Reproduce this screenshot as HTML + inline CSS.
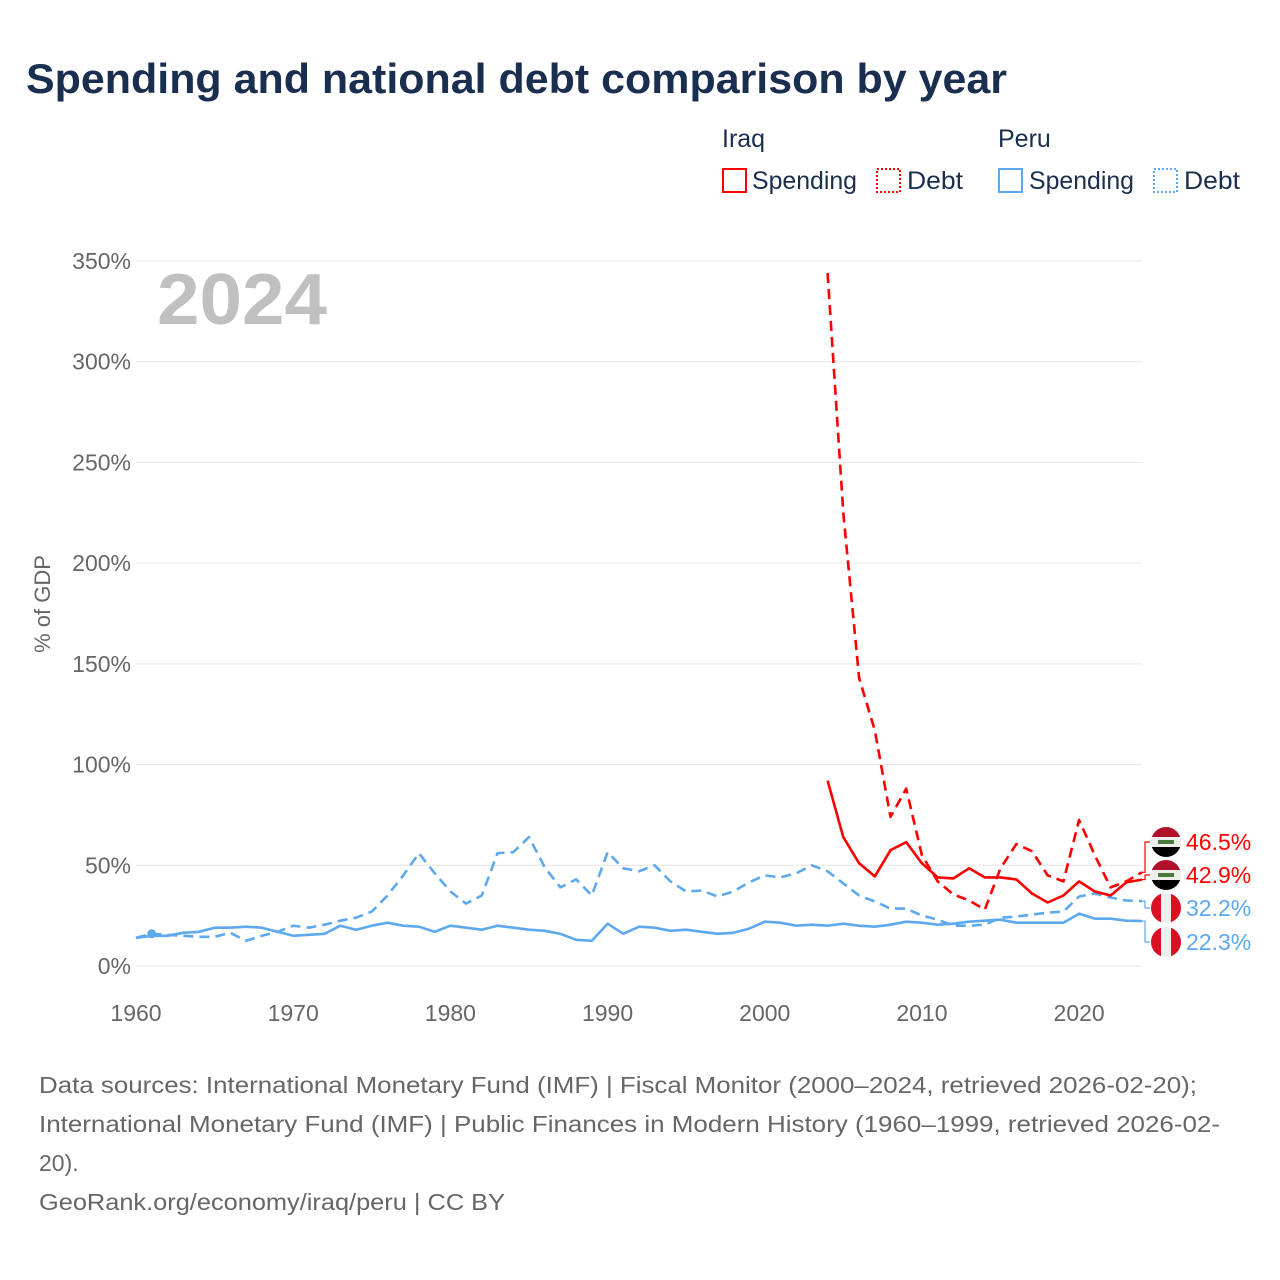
<!DOCTYPE html>
<html><head><meta charset="utf-8"><style>
body{margin:0;background:#fff;font-family:"Liberation Sans",sans-serif;}
#wrap{position:relative;width:1280px;height:1280px;overflow:hidden;}
</style></head><body>
<div id="wrap">
<svg id="svg" width="1280" height="1280" xmlns="http://www.w3.org/2000/svg">
<text x="26" y="93" font-size="42" font-weight="bold" fill="#1a2e4f" textLength="981" lengthAdjust="spacingAndGlyphs">Spending and national debt comparison by year</text>
<g font-size="25" fill="#1a2e4f">
<text x="722" y="147">Iraq</text>
<text x="998" y="147">Peru</text>
<g><rect x="723" y="169" width="23" height="23" fill="none" stroke="#ff0000" stroke-width="2"/><text x="752" y="189" textLength="105" lengthAdjust="spacingAndGlyphs">Spending</text></g>
<g><rect x="877" y="169" width="23" height="23" fill="none" stroke="#ff0000" stroke-width="2" stroke-dasharray="2,2"/><text x="907" y="189" textLength="56" lengthAdjust="spacingAndGlyphs">Debt</text></g>
<g><rect x="999" y="169" width="23" height="23" fill="none" stroke="#5ea8ee" stroke-width="2"/><text x="1029" y="189" textLength="105" lengthAdjust="spacingAndGlyphs">Spending</text></g>
<g><rect x="1154" y="169" width="23" height="23" fill="none" stroke="#5ea8ee" stroke-width="2" stroke-dasharray="2,2"/><text x="1184" y="189" textLength="56" lengthAdjust="spacingAndGlyphs">Debt</text></g>
</g>
<text x="157" y="324" font-size="72" font-weight="bold" fill="#c0c0c0" textLength="170" lengthAdjust="spacingAndGlyphs">2024</text>
<text transform="translate(50,604) rotate(-90)" text-anchor="middle" font-size="22" fill="#666">% of GDP</text>
<g id="grid"></g><g id="series"></g><g id="labels"></g>
<g font-size="23" fill="#666">
<text x="39" y="1093" textLength="1158" lengthAdjust="spacingAndGlyphs">Data sources: International Monetary Fund (IMF) | Fiscal Monitor (2000–2024, retrieved 2026-02-20);</text>
<text x="39" y="1132" textLength="1181" lengthAdjust="spacingAndGlyphs">International Monetary Fund (IMF) | Public Finances in Modern History (1960–1999, retrieved 2026-02-</text>
<text x="39" y="1171">20).</text>
<text x="39" y="1210" textLength="466" lengthAdjust="spacingAndGlyphs">GeoRank.org/economy/iraq/peru | CC BY</text>
</g>
</svg>
</div>
<script>
const yTicks=[0,50,100,150,200,250,300,350];
const xTicks=[1960,1970,1980,1990,2000,2010,2020];
const peruYears=[];for(let y=1960;y<=2024;y++)peruYears.push(y);
const iraqYears=[];for(let y=2004;y<=2024;y++)iraqYears.push(y);
const peruSpending=[14,15,15,16.5,17,19,19,19.5,19,17,15,15.5,16,20,18,20,21.5,20,19.5,17,20,19,18,20,19,18,17.5,16,13,12.5,21,16,19.5,19,17.5,18,17,16,16.5,18.5,22,21.5,20,20.5,20,21,20,19.5,20.5,22,21.5,20.5,21,22,22.5,23,21.5,21.5,21.5,21.5,26,23.5,23.5,22.5,22.3];
const peruDebt=[14,16,15.5,15,14.5,14.5,16.5,12.5,15,17,20,19,20.5,22.5,24,27,35,45,56,46,37,31,35,56,56.5,64,49,39,43,35,56.5,48.5,47,50,42,37,37.5,34.5,37,41.5,45,44,46,50,47,41,35,32,28.5,28.5,25,23,20,20,20.5,24,24.5,25.5,26.5,27,34.5,36,34,32.5,32.2];
const iraqSpending=[92,64,51,44.5,57.5,61.5,51,44,43.5,48.5,44,44,43,36,31.5,35,42,37,35,41.5,42.9];
const iraqDebt=[344,225,143,117,74,88,55,42,35.5,32.5,28,48.5,60.5,57,45,42,72.5,55,39,42,46.5];
const X0=136,X1=1142,Y0=966,Y350=261;
const xs=y=>X0+(y-1960)*(X1-X0)/64;
const ys=v=>Y0-v*(Y0-Y350)/350;
const NS='http://www.w3.org/2000/svg';
function mk(tag,attrs,parent){const e=document.createElementNS(NS,tag);for(const k in attrs)e.setAttribute(k,attrs[k]);parent.appendChild(e);return e;}
const grid=document.getElementById('grid');
yTicks.forEach(t=>{
 const l=mk('line',{x1:136,x2:1142,y1:ys(t),y2:ys(t),stroke:'#e6e6e6','stroke-width':1},grid);
 
 
 const tx=mk('text',{x:131,y:ys(t)+8,'text-anchor':'end','font-size':23,fill:'#666'},grid);
 tx.textContent=t+'%';
 
 
});
xTicks.forEach(t=>{
 const tx=mk('text',{x:xs(t),y:1021,'text-anchor':'middle','font-size':23,fill:'#666'},grid);
 tx.textContent=t;
 
 
});
const ser=document.getElementById('series');
function line(years,vals,color,dash,name){
 const d=years.map((y,i)=>(i?'L':'M')+xs(y).toFixed(1)+','+ys(vals[i]).toFixed(1)).join('');
 const p=mk('path',{d:d,fill:'none',stroke:color,'stroke-width':2.6,'stroke-linejoin':'round'},ser);
 if(dash)p.setAttribute('stroke-dasharray','10,6');
 
 
}
line(peruYears,peruDebt,'#5ea8ee',true,'peru-debt-line');
line(peruYears,peruSpending,'#5ea8ee',false,'peru-spending-line');
line(iraqYears,iraqDebt,'#ff0000',true,'iraq-debt-line');
line(iraqYears,iraqSpending,'#ff0000',false,'iraq-spending-line');
const dot=mk('circle',{cx:xs(1961),cy:ys(peruDebt[1]),r:4.5,fill:'#5ea8ee'},ser);


const lab=document.getElementById('labels');
const endLabels=[
 {v:iraqDebt[20],y:842,c:'#ff0000',flag:'iraq',n:'iraq-debt'},
 {v:iraqSpending[20],y:875,c:'#ff0000',flag:'iraq',n:'iraq-spending'},
 {v:peruDebt[64],y:908,c:'#5ea8ee',flag:'peru',n:'peru-debt'},
 {v:peruSpending[64],y:942,c:'#5ea8ee',flag:'peru',n:'peru-spending'}];
endLabels.forEach(L=>{
 const g=mk('g',{},lab);
 
 
 mk('path',{d:`M1142,${ys(L.v)} H1145 V${L.y} H1150`,fill:'none',stroke:L.c,'stroke-width':1.2},g);
 const cx=1166,cy=L.y,r=15;
 const cid='c'+L.n;
 const cp=mk('clipPath',{id:cid},g);mk('circle',{cx:cx,cy:cy,r:r},cp);
 const fg=mk('g',{'clip-path':`url(#${cid})`},g);
 if(L.flag==='iraq'){
  mk('rect',{x:cx-r,y:cy-r,width:30,height:10,fill:'#b0102a'},fg);
  mk('rect',{x:cx-r,y:cy-5,width:30,height:10,fill:'#eee'},fg);
  mk('rect',{x:cx-r,y:cy+5,width:30,height:10,fill:'#000'},fg);
  mk('rect',{x:cx-8,y:cy-2,width:16,height:4,fill:'#4a7a3a'},fg);
 }else{
  mk('rect',{x:cx-r,y:cy-r,width:10,height:30,fill:'#d91023'},fg);
  mk('rect',{x:cx-5,y:cy-r,width:10,height:30,fill:'#eee'},fg);
  mk('rect',{x:cx+5,y:cy-r,width:10,height:30,fill:'#d91023'},fg);
 }
 const t=mk('text',{x:1186,y:L.y+8,'font-size':23,fill:L.c},g);
 t.textContent=L.v.toFixed(1)+'%';
});
</script>
</body></html>
